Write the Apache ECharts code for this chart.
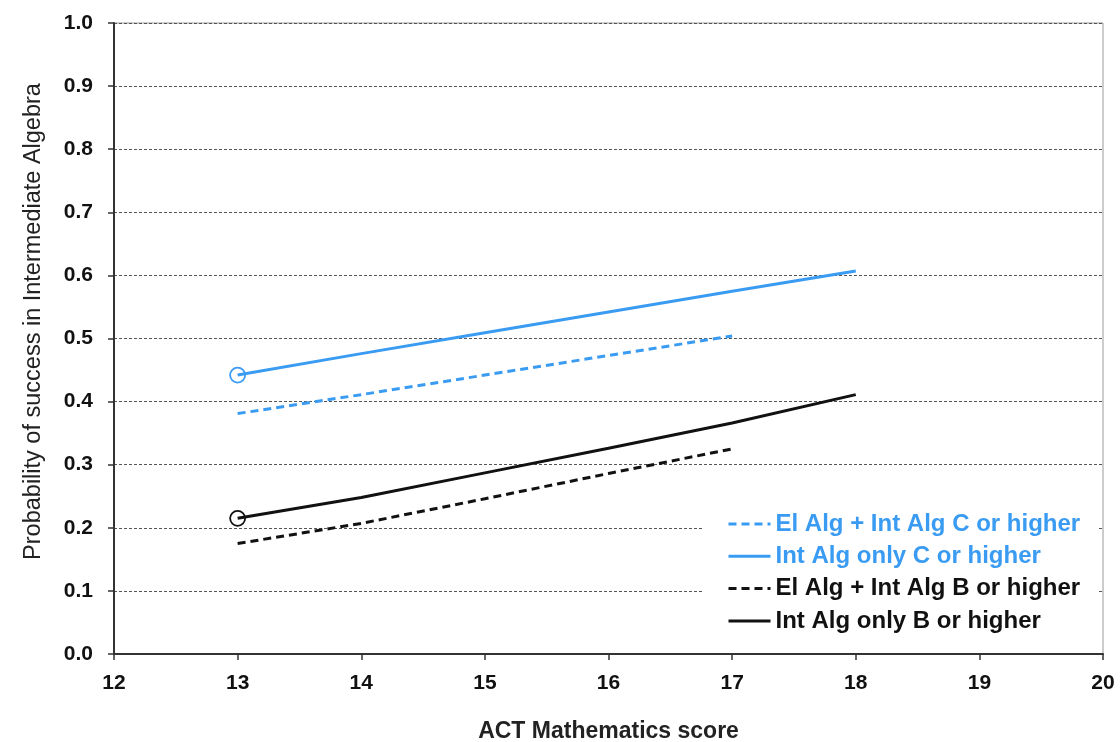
<!DOCTYPE html>
<html>
<head>
<meta charset="utf-8">
<style>
html,body{margin:0;padding:0;background:#fff;}
#chart{width:1120px;height:742px;}
</style>
<script src="https://cdn.jsdelivr.net/npm/echarts@6/dist/echarts.min.js"></script>
</head>
<body>
<div id="chart"></div>
<script>
// Data
const scoresLong = [13, 14, 15, 16, 17, 18];
const scoresShort = [13, 14, 15, 16, 17];
const seriesNames = [
  'El Alg + Int Alg C or higher',
  'Int Alg only C or higher',
  'El Alg + Int Alg B or higher',
  'Int Alg only B or higher'
];
const elAlgC = [0.381, 0.411, 0.442, 0.473, 0.504];
const intAlgC = [0.442, 0.476, 0.509, 0.542, 0.575, 0.607];
const elAlgB = [0.175, 0.207, 0.246, 0.286, 0.325];
const intAlgB = [0.215, 0.248, 0.287, 0.326, 0.366, 0.411];
const yTicks = [0, 0.1, 0.2, 0.3, 0.4, 0.5, 0.6, 0.7, 0.8, 0.9, 1.0];
const xTicks = [12, 13, 14, 15, 16, 17, 18, 19, 20];

const BLUE = '#3a9bf2';
const BLACK = '#111111';
const FONT = 'Liberation Sans, Arial, sans-serif';

function pairs(xs, ys, markFirst, color) {
  return ys.map((v, i) => {
    if (i === 0 && markFirst) {
      return {
        value: [xs[i], v],
        symbol: 'circle',
        symbolSize: 15,
        itemStyle: { color: 'transparent', borderColor: color, borderWidth: 1.8 }
      };
    }
    return { value: [xs[i], v], symbol: 'none' };
  });
}

const chart = echarts.init(document.getElementById('chart'), null, { renderer: 'canvas' });
chart.setOption({
  backgroundColor: '#ffffff',
  animation: false,
  grid: {
    left: 114, right: 17, top: 23, bottom: 88,
    containLabel: false,
    outerBoundsMode: 'none',
    show: true, borderColor: '#9a9a9a', borderWidth: 1, backgroundColor: 'transparent'
  },
  xAxis: {
    type: 'value',
    min: xTicks[0], max: xTicks[xTicks.length - 1], interval: 1,
    name: 'ACT Mathematics score',
    nameLocation: 'middle', nameGap: 66,
    nameTextStyle: { fontFamily: FONT, fontWeight: 'bold', fontSize: 23, color: '#222' },
    axisLine: { show: true, onZero: false, lineStyle: { color: '#333', width: 2 } },
    axisTick: { show: true, inside: false, length: 6, lineStyle: { color: '#333', width: 1.5 } },
    axisLabel: { fontFamily: FONT, fontWeight: 'bold', fontSize: 21, color: '#111', margin: 19 },
    splitLine: { show: false }
  },
  yAxis: {
    type: 'value',
    min: yTicks[0], max: yTicks[yTicks.length - 1], interval: 0.1,
    name: 'Probability of success in Intermediate Algebra',
    nameLocation: 'middle', nameGap: 68,
    nameTextStyle: { fontFamily: FONT, fontWeight: 'normal', fontSize: 23.5, color: '#222', padding: [0, 0, 0, 34] },
    axisLine: { show: true, onZero: false, lineStyle: { color: '#333', width: 2 } },
    axisTick: { show: true, inside: false, length: 6, lineStyle: { color: '#333', width: 1.5 } },
    axisLabel: {
      fontFamily: FONT, fontWeight: 'bold', fontSize: 21, color: '#111', margin: 21,
      formatter: v => v.toFixed(1)
    },
    splitLine: { show: true, lineStyle: { color: '#555', width: 1, type: [3, 2] } }
  },
  legend: {
    orient: 'vertical',
    left: 703, top: 504,
    padding: [8, 18, 8, 24],
    backgroundColor: '#ffffff',
    itemWidth: 42, itemHeight: 20, itemGap: 8.3,
    selectedMode: false,
    itemStyle: { opacity: 0, borderWidth: 0 },
    lineStyle: { width: 3 },
    textStyle: { fontFamily: FONT, fontWeight: 'bold', fontSize: 24 },
    data: [
      { name: seriesNames[0], textStyle: { color: BLUE } },
      { name: seriesNames[1], textStyle: { color: BLUE } },
      { name: seriesNames[2], textStyle: { color: BLACK } },
      { name: seriesNames[3], textStyle: { color: BLACK } }
    ]
  },
  series: [
    {
      name: seriesNames[0], type: 'line', symbol: 'none',
      data: pairs(scoresShort, elAlgC, false, BLUE),
      itemStyle: { color: BLUE },
      lineStyle: { color: BLUE, width: 3, type: [8, 5] }
    },
    {
      name: seriesNames[1], type: 'line', symbol: 'none',
      data: pairs(scoresLong, intAlgC, true, BLUE),
      itemStyle: { color: BLUE },
      lineStyle: { color: BLUE, width: 3 }
    },
    {
      name: seriesNames[2], type: 'line', symbol: 'none',
      data: pairs(scoresShort, elAlgB, false, BLACK),
      itemStyle: { color: BLACK },
      lineStyle: { color: BLACK, width: 3, type: [8, 5] }
    },
    {
      name: seriesNames[3], type: 'line', symbol: 'none',
      data: pairs(scoresLong, intAlgB, true, BLACK),
      itemStyle: { color: BLACK },
      lineStyle: { color: BLACK, width: 3 }
    }
  ]
});
</script>
</body>
</html>
